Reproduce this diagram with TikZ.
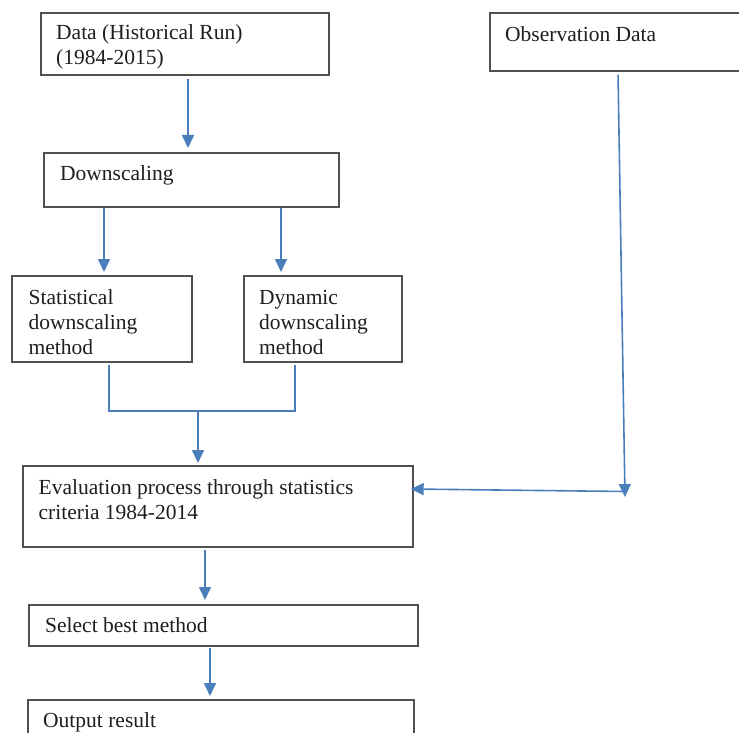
\documentclass[tikz,border=0pt]{standalone}
\usepackage{fontspec}
\setmainfont{Liberation Serif}
\usetikzlibrary{arrows.meta,calc}
\definecolor{arrowblue}{RGB}{74,126,187}
\definecolor{boxgray}{RGB}{80,80,80}
\definecolor{txt}{RGB}{30,30,30}
\begin{document}
\begin{tikzpicture}[x=1pt,y=-1pt,
  box/.style={draw=boxgray,line width=1.7pt,rectangle,inner sep=0pt,anchor=north west},
  lab/.style={anchor=base west,inner sep=0pt,align=left,text=txt,font=\fontsize{21.5}{25}\selectfont},
  conn/.style={draw=arrowblue,line width=1.6pt},
  arr/.style={conn,-{Triangle[length=13pt,width=12pt]}}]
\useasboundingbox (0,0) rectangle (739,733);
\clip (0,0) rectangle (739,733);
% boxes
\node[box,minimum width=288pt,minimum height=62pt] (b1) at (40,12) {};
\node[box,minimum width=295pt,minimum height=54pt] (b2) at (43,152) {};
\node[box,minimum width=180pt,minimum height=86pt] (b3) at (11,275) {};
\node[box,minimum width=158pt,minimum height=86pt] (b4) at (243,275) {};
\node[box,minimum width=390pt,minimum height=81pt] (b5) at (22,465) {};
\node[box,minimum width=270pt,minimum height=58pt] (obs) at (489,12) {};
\node[box,minimum width=389pt,minimum height=41pt] (b6) at (28,604) {};
\node[box,minimum width=386pt,minimum height=60pt] (b7) at (27,699) {};
% labels (anchor = baseline of last line)
\node[lab] (t1) at (56,64.5) {Data (Historical Run)\\(1984-2015)};
\node[lab] (t2) at (60,180.5) {Downscaling};
\node[lab] (t3) at (28.5,354.5) {Statistical\\downscaling\\method};
\node[lab] (t4) at (259,354.5) {Dynamic\\downscaling\\method};
\node[lab] (t5) at (38.5,519) {Evaluation process through statistics\\criteria 1984-2014};
\node[lab] (to) at (505,41.5) {Observation Data};
\node[lab] (t6) at (45,632) {Select best method};
\node[lab] (t7) at (43,727) {Output result};
% helper coordinates
\coordinate (x1) at (188,0);
\coordinate (x2) at (104,0);
\coordinate (x3) at (281,0);
\coordinate (xa) at (109,0);
\coordinate (xb) at (295,0);
\coordinate (m) at (198,411);
\coordinate (xo) at (618,0);
\coordinate (oc) at (625,497);
\coordinate (oh) at (625,491.5);
\coordinate (ey) at (0,489);
\coordinate (x5) at (205,0);
\coordinate (x6) at (210,0);
% connectors
\draw[arr,shorten <=3pt] (b1.south -| x1) -- ([yshift=4pt]b2.north -| x1);
\draw[arr] (b2.south -| x2) -- ([yshift=3pt]b3.north -| x2);
\draw[arr] (b2.south -| x3) -- ([yshift=3pt]b4.north -| x3);
\draw[conn,shorten <=2pt] (b3.south -| xa) |- (m);
\draw[conn,shorten <=2pt] (b4.south -| xb) |- (m);
\draw[arr] (m) -- ([yshift=2pt]b5.north -| m);
\draw[arr,shorten <=3pt] (obs.south -| xo) -- (oc);
\draw[arr] (oh) -- ([xshift=-3pt]b5.east |- ey);
\draw[arr,shorten <=2pt] (b5.south -| x5) -- ([yshift=4pt]b6.north -| x5);
\draw[arr,shorten <=1pt] (b6.south -| x6) -- ([yshift=3pt]b7.north -| x6);
\end{tikzpicture}
\end{document}
